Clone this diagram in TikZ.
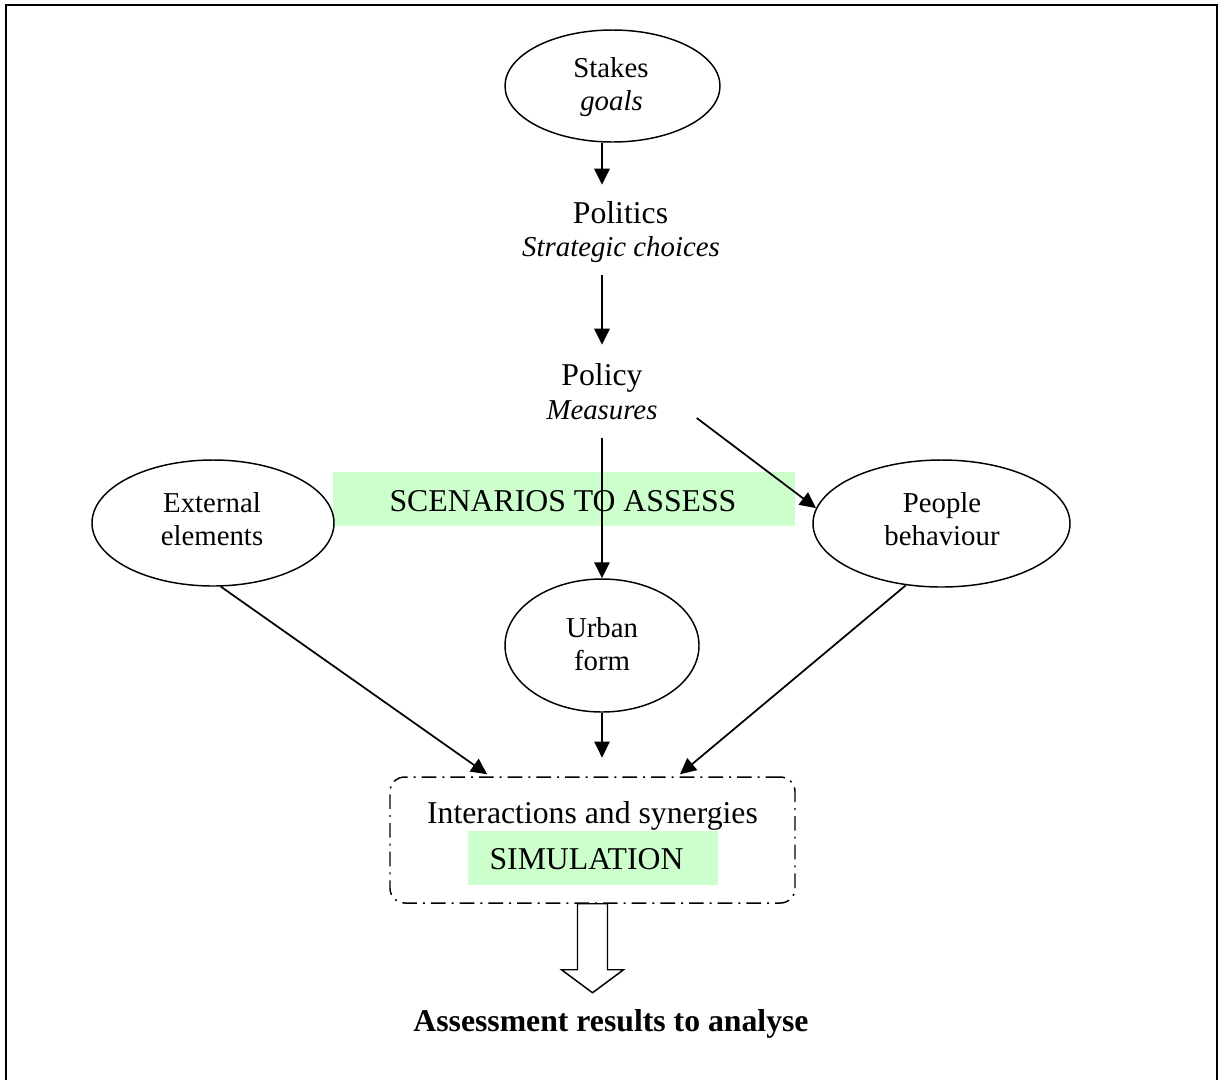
\documentclass[tikz,border=0pt]{standalone}
\usepackage{fontspec}
\setmainfont{Liberation Serif}
\usetikzlibrary{shapes.geometric,arrows.meta,calc}
\definecolor{palegreen}{RGB}{204,255,204}
\newcommand\fbig{\fontsize{23.8pt}{28pt}\selectfont}
\newcommand\fsmall{\fontsize{21.6pt}{26pt}\selectfont}
\begin{document}
\begin{tikzpicture}[x=0.75pt,y=-0.75pt,
  oval/.style={draw, ellipse, line width=1.1pt, inner sep=0pt},
  txt/.style={inner sep=0pt, anchor=base},
  arr/.style={line width=1.3pt, -{Triangle[length=12pt,width=11.5pt]}},
  hl/.style={fill=palegreen, inner sep=0pt},
  dashbox/.style={draw, rounded corners=11pt, line width=1.1pt,
    dash pattern=on 11pt off 4.5pt on 1.5pt off 4.5pt, inner sep=0pt},
  hollow/.style={draw, line width=1.1pt, fill=white}
]
\useasboundingbox (0,0) rectangle (1219,1079);
\draw[line width=1.6pt] (6,5) rectangle (1217,1100);

% highlights
\node[hl, minimum width=346.5pt, minimum height=40.5pt] (scenbg) at (564,499) {};
\node[hl, minimum width=187.5pt, minimum height=40.5pt] (simbg) at (593,858) {};

% ellipses
\node[oval, minimum width=161.25pt, minimum height=84pt] (stakes) at (612.5,86) {};
\node[oval, minimum width=181.5pt, minimum height=94.5pt] (ext) at (213,523) {};
\node[oval, minimum width=192.75pt, minimum height=95.25pt] (people) at (941.5,523.5) {};
\node[oval, minimum width=145.5pt, minimum height=99.75pt] (urban) at (602,645.5) {};

% simulation box
\node[dashbox, minimum width=303.75pt, minimum height=94.5pt] (box) at (592.5,840) {};

% texts
\node[txt, font=\fsmall] (stk1) at (611,77) {Stakes};
\node[txt, font=\fsmall\itshape] (stk2) at (611.5,110) {goals};
\node[txt, font=\fbig, text height=28.5pt] (politics) at (620.5,223) {Politics};
\node[txt, font=\fsmall\itshape, text depth=14.25pt] (strat) at (621,256) {Strategic choices};
\node[txt, font=\fbig, text height=30pt] (policy) at (602,385) {Policy};
\node[txt, font=\fsmall\itshape, text depth=14pt] (meas) at (602,419) {Measures};

\node[txt, font=\fsmall] (ext1) at (212,512) {External};
\node[txt, font=\fsmall] (ext2) at (212,545) {elements};
\node[txt, font=\fsmall] (peo1) at (942,512) {People};
\node[txt, font=\fsmall] (peo2) at (942,545) {behaviour};
\node[txt, font=\fsmall] (urb1) at (602,637) {Urban};
\node[txt, font=\fsmall] (urb2) at (602,670) {form};

\node[txt, font=\fbig] (scen) at (563,511) {SCENARIOS TO ASSESS};
\node[txt, font=\fbig] (inter) at (592.5,823) {Interactions and synergies};
\node[txt, font=\fbig] (sim) at (586.5,869) {SIMULATION};
\node[txt, font=\fbig\bfseries] (assess) at (611,1031) {Assessment results to analyse};

% connectors
\draw[arr] (stakes.south -| urban.north) -- (politics.north -| urban.north);
\draw[arr] (strat.south -| urban.north) -- (policy.north -| urban.north);
\draw[arr] (meas.south -| urban.north) -- (urban.north);
\draw[arr] ([xshift=29.25pt,yshift=0.75pt]meas.base east) -- (people.173);
\draw[arr] (ext.277) -- ([xshift=-79pt,yshift=1.5pt]box.north);
\draw[arr, shorten >=14pt] (urban.south) -- (urban.south |- box.north);
\draw[arr] (people.240) -- ([xshift=65.6pt,yshift=1.5pt]box.north);

% hollow result arrow
\draw[hollow] (box.south) ++(-15,0) -- ++(0,66) -- ++(-16,0) -- ++(31,23)
  -- ++(31,-23) -- ++(-16,0) -- ++(0,-66) -- cycle;
\end{tikzpicture}
\end{document}
